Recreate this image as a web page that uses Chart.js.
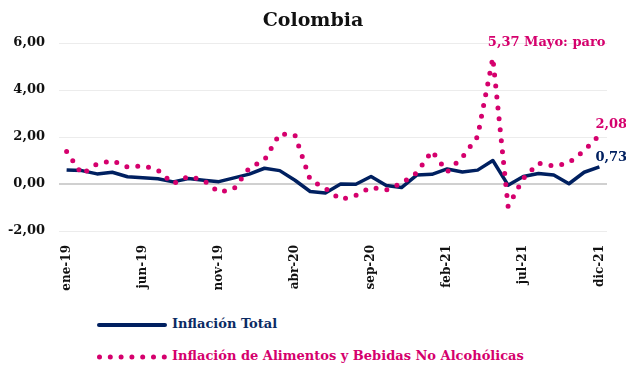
<!DOCTYPE html>
<html>
<head>
<meta charset="utf-8">
<script src="https://cdn.jsdelivr.net/npm/chart.js@4.4.1/dist/chart.umd.min.js"></script>
<style>
  body { margin: 0; background: #fff; font-family: 'DejaVu Serif', serif; }
  #wrap { position: relative; width: 626px; height: 369px; }
  #title { position: absolute; left: 0; top: 8px; width: 626px; text-align: center;
           font-weight: bold; font-size: 19px; color: #111; }
  #chartBox { position: absolute; left: 0; top: 0; width: 626px; height: 305px; }
  .leg { position: absolute; left: 97px; font-weight: bold; font-size: 13px; white-space: nowrap; }
  .leg svg { vertical-align: middle; margin-right: 5px; }
</style>
</head>
<body>
<div id="wrap">
  <div id="chartBox"><canvas id="inflChart"></canvas></div>
  <div id="title">Colombia</div>
  <div class="leg" id="leg1" style="top:316px;color:#0b2a63;">
    <svg width="70" height="6"><line x1="2" y1="3" x2="68" y2="3" stroke="#002060" stroke-width="4" stroke-linecap="round"/></svg>Inflación Total
  </div>
  <div class="leg" id="leg2" style="top:348px;color:#d5006d;">
    <svg width="70" height="6"><line x1="2.5" y1="3" x2="68" y2="3" stroke="#d5006d" stroke-width="5" stroke-linecap="round" stroke-dasharray="0 10.8"/></svg>Inflación de Alimentos y Bebidas No Alcohólicas
  </div>
</div>
<script>
// ----------------------------------------------------------------------
// Daten (Monatswerte ene-19 .. dic-21)
// ----------------------------------------------------------------------
const months = [
  'ene-19','feb-19','mar-19','abr-19','may-19','jun-19','jul-19','ago-19','sep-19','oct-19','nov-19','dic-19',
  'ene-20','feb-20','mar-20','abr-20','may-20','jun-20','jul-20','ago-20','sep-20','oct-20','nov-20','dic-20',
  'ene-21','feb-21','mar-21','abr-21','may-21','jun-21','jul-21','ago-21','sep-21','oct-21','nov-21','dic-21'
];
const inflacionTotal = [
  0.60, 0.57, 0.43, 0.50, 0.31, 0.27, 0.22, 0.09, 0.23, 0.16, 0.10, 0.26,
  0.42, 0.67, 0.57, 0.16, -0.32, -0.38, 0.00, -0.01, 0.32, -0.06, -0.15, 0.38,
  0.41, 0.64, 0.51, 0.59, 1.00, -0.05, 0.32, 0.45, 0.38, 0.01, 0.50, 0.73
];
const inflacionAlimentos = [
  1.38, 0.42, 0.85, 1.00, 0.72, 0.78, 0.59, 0.01, 0.32, 0.16, -0.35, -0.20,
  0.68, 1.02, 2.14, 2.08, 0.18, -0.19, -0.66, -0.48, -0.14, -0.26, 0.03, 0.48,
  1.40, 0.52, 1.14, 2.02, 5.37, -0.95, 0.23, 0.89, 0.76, 0.90, 1.42, 2.08
];
const yTicks = [-2, 0, 2, 4, 6];

const navy = '#002060';
const pink = '#d5006d';
const serif = "'DejaVu Serif', serif";

// Etiketten an einzelnen Punkten
const pointLabels = [
  { ds: 0, idx: 28, text: '5,37 Mayo: paro', dx: -5, dy: -15, color: pink },
  { ds: 0, idx: 35, text: '2,08', dx: -4, dy: -10, color: pink },
  { ds: 1, idx: 35, text: '0,73', dx: -4, dy: -9, color: navy }
];

const labelPlugin = {
  id: 'pointLabels',
  afterDatasetsDraw(chart) {
    const ctx = chart.ctx;
    ctx.save();
    ctx.font = 'bold 13px ' + serif;
    ctx.textAlign = 'left';
    ctx.textBaseline = 'middle';
    pointLabels.forEach(l => {
      const pt = chart.getDatasetMeta(l.ds).data[l.idx];
      ctx.fillStyle = l.color;
      ctx.fillText(l.text, pt.x + l.dx, pt.y + l.dy);
    });
    ctx.restore();
  }
};

const ctx = document.getElementById('inflChart').getContext('2d');
new Chart(ctx, {
  type: 'line',
  data: {
    labels: months,
    datasets: [
      {
        label: 'Inflación de Alimentos y Bebidas No Alcohólicas',
        data: inflacionAlimentos,
        borderColor: pink,
        backgroundColor: pink,
        borderWidth: 5,
        borderDash: [0, 11],
        borderCapStyle: 'round',
        pointRadius: 0,
        tension: 0,
        fill: false,
        order: 0
      },
      {
        label: 'Inflación Total',
        data: inflacionTotal,
        borderColor: navy,
        backgroundColor: navy,
        borderWidth: 3.5,
        borderJoinStyle: 'round',
        pointRadius: 0,
        tension: 0,
        fill: false,
        order: 1
      }
    ]
  },
  options: {
    responsive: true,
    maintainAspectRatio: false,
    animation: false,
    layout: { padding: { top: 43, right: 19, left: 0, bottom: 4 } },
    scales: {
      x: {
        type: 'category',
        offset: true,
        grid: { display: false },
        border: { display: false },
        ticks: {
          autoSkip: false,
          maxRotation: 90,
          minRotation: 90,
          padding: 6,
          color: '#111',
          font: { family: serif, weight: 'bold', size: 12 },
          callback: function(val, i) { return i % 5 === 0 ? months[i] : ''; }
        },
        afterFit(scale) { scale.height = 70; }
      },
      y: {
        min: -2,
        max: 6,
        afterBuildTicks(scale) { scale.ticks = yTicks.map(v => ({ value: v })); },
        border: { display: false },
        grid: {
          color: c => c.tick && c.tick.value === 0 ? '#d0d0d0' : '#ececec',
          lineWidth: c => c.tick && c.tick.value === 0 ? 2 : 1,
          drawTicks: false
        },
        ticks: {
          padding: 14,
          color: '#111',
          font: { family: serif, weight: 'bold', size: 13 },
          callback: v => v.toFixed(2).replace('.', ',')
        },
        afterFit(scale) { scale.width = 59; }
      }
    },
    plugins: {
      legend: { display: false },
      tooltip: { enabled: false }
    }
  },
  plugins: [labelPlugin]
});
</script>
</body>
</html>
